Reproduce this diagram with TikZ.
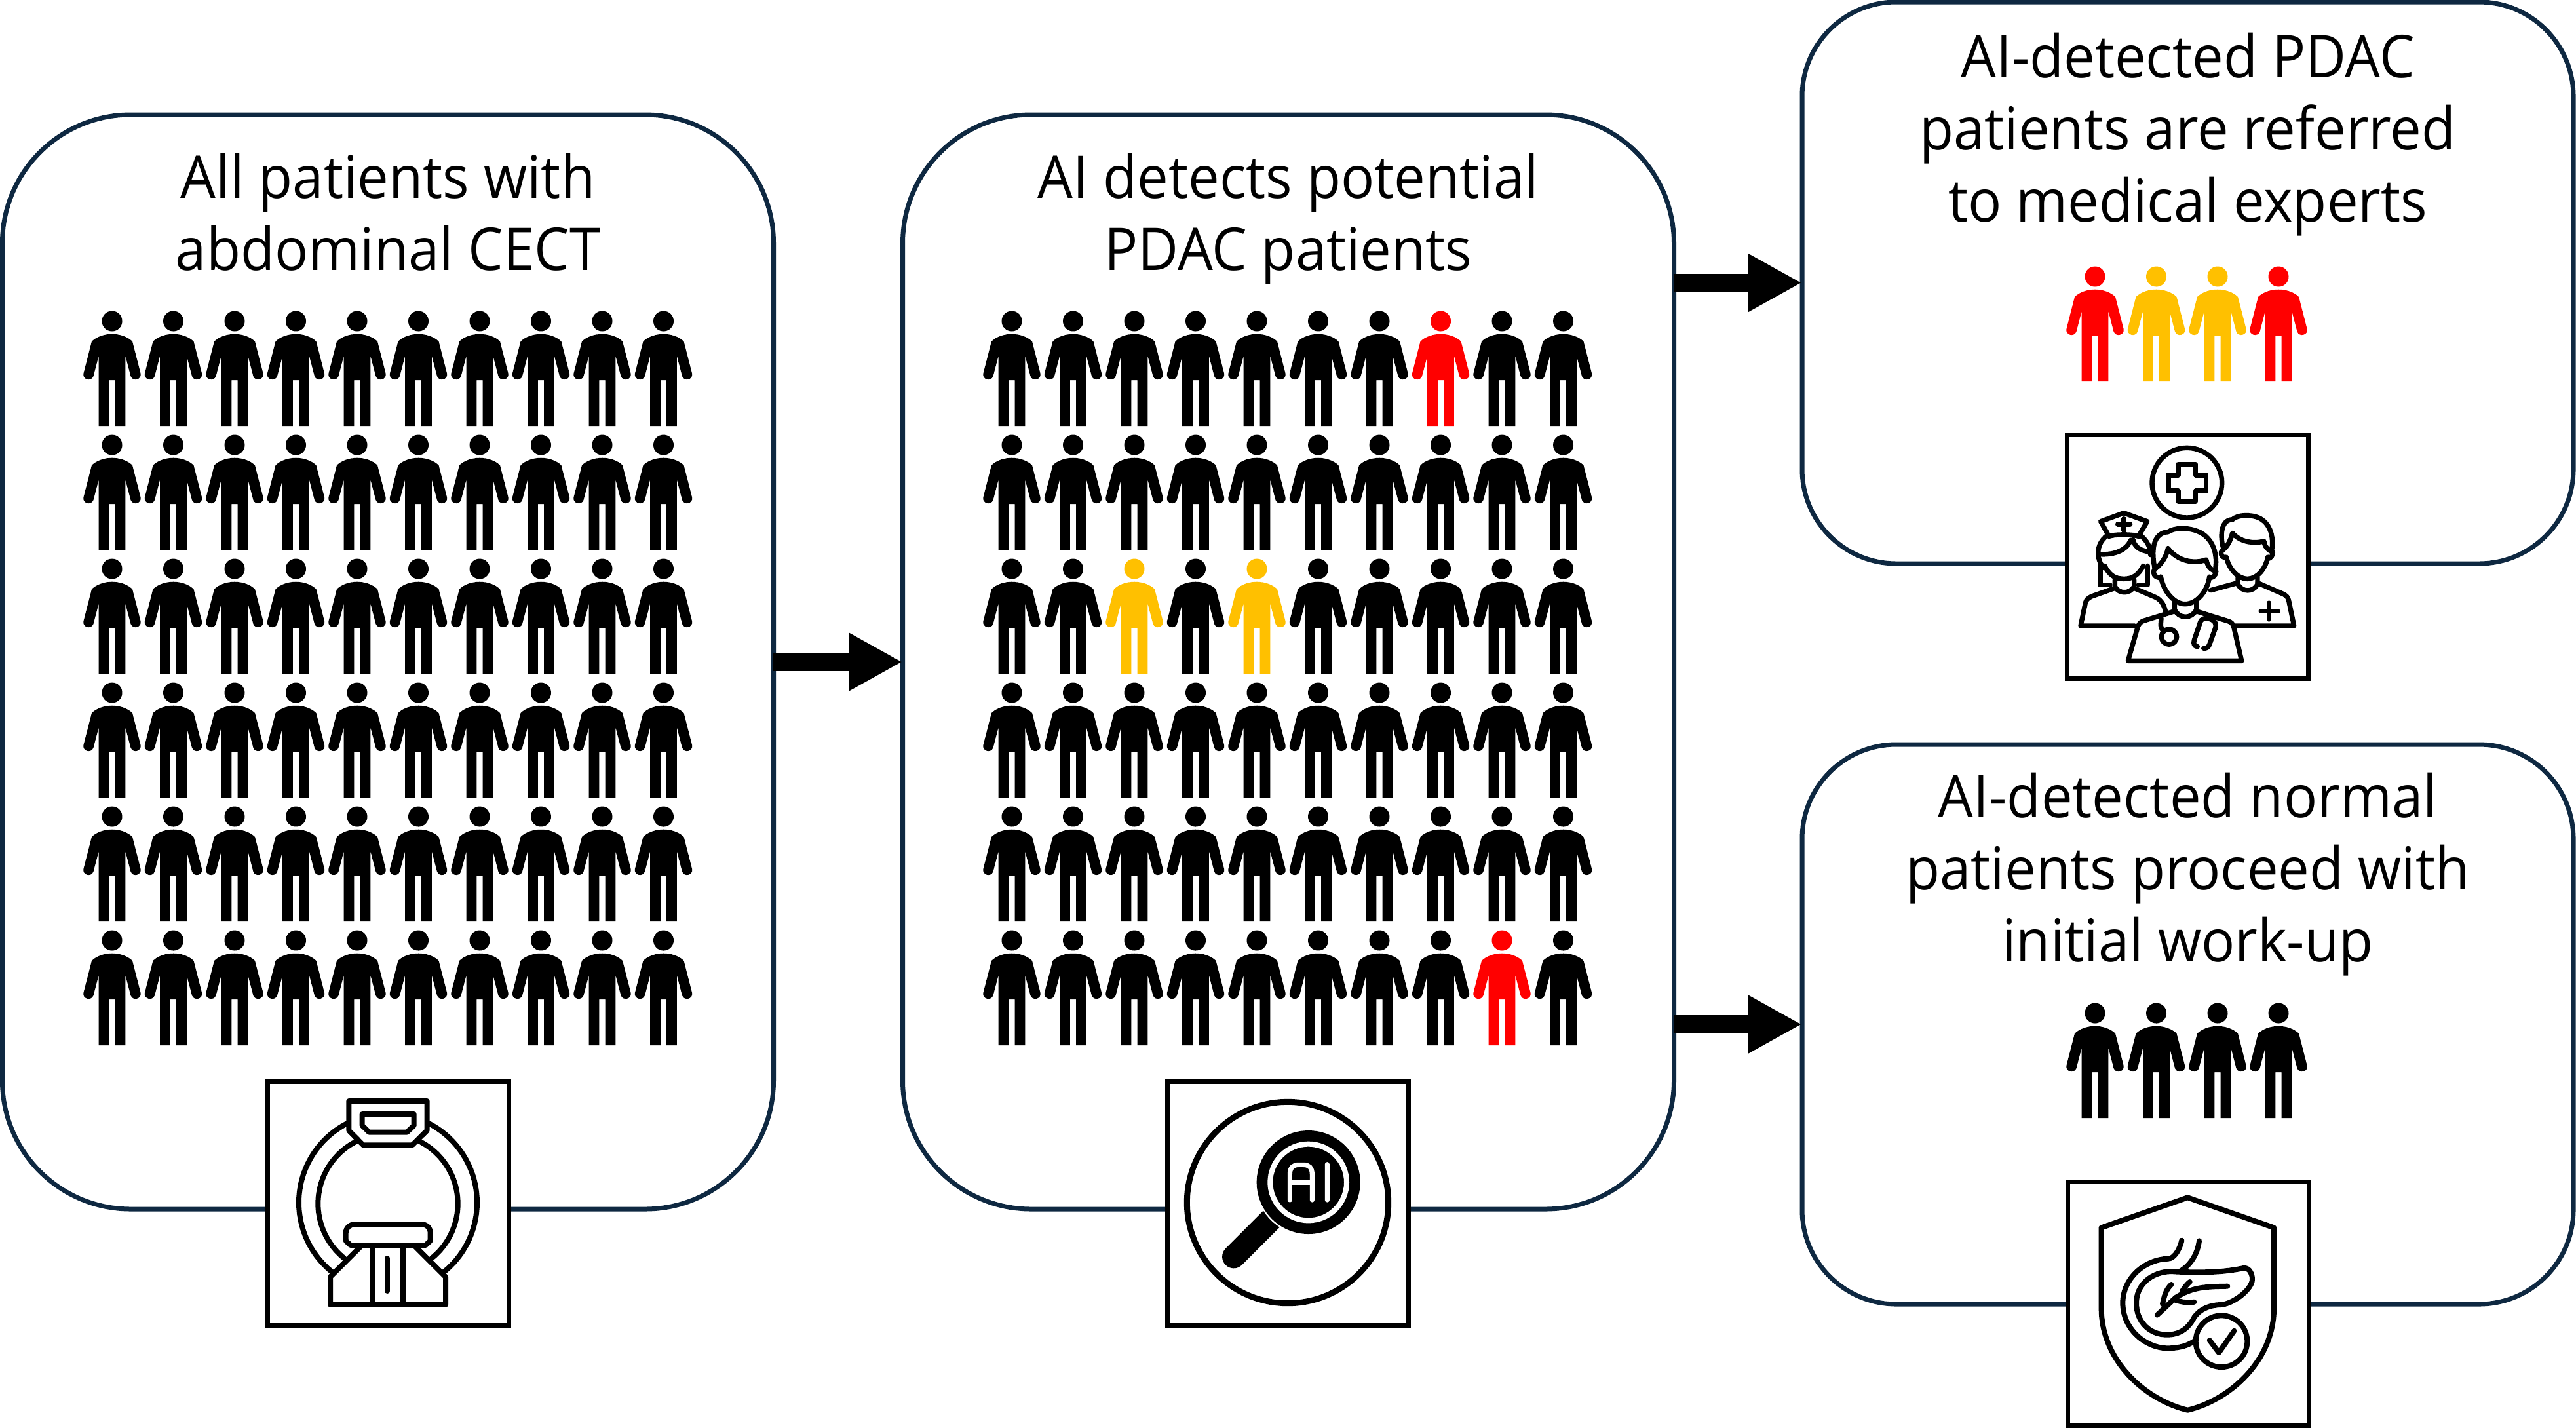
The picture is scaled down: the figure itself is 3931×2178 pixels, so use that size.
\documentclass[tikz,border=0pt]{standalone}
\usepackage{fontspec}
\setmainfont[FakeStretch=0.945]{Open Sans}
\usetikzlibrary{arrows.meta}
\definecolor{navy}{HTML}{0E2841}
\definecolor{pred}{HTML}{FF0000}
\definecolor{pyel}{HTML}{FFC000}
\newcommand{\patient}[3]{%
  \begin{scope}[shift={(#1,#2)}]
    \fill[#3] (0,0) circle[radius=15.5];
    \fill[#3] (0,19.7) .. controls (-12,19.7) and (-24,24) .. (-31,31)
      -- (-43.6,80) .. controls (-45.5,89) and (-32,93) .. (-28.5,84)
      -- (-20.4,53) -- (-20.4,160) -- (-4.7,160) -- (-4.7,90)
      -- (4.7,90) -- (4.7,160) -- (20.4,160) -- (20.4,53)
      -- (28.5,84) .. controls (32,93) and (45.5,89) .. (43.6,80)
      -- (31,31) .. controls (24,24) and (12,19.7) .. (0,19.7) -- cycle;
  \end{scope}}
\tikzset{
  panel/.style={draw=navy,line width=1.75pt,fill=white,inner sep=0pt,rectangle},
  iconbox/.style={draw=black,line width=1.75pt,fill=white,inner sep=0pt,rectangle,minimum width=92pt,minimum height=93pt},
  flow/.style={line width=7pt,-{Triangle[length=20.5pt,width=20.75pt]},shorten <=-1pt,shorten >=-0.8pt},
  head/.style={align=center,anchor=base,inner sep=0pt,font=\fontsize{22.5}{27.5}\selectfont},
  ico/.style={line width=2pt,line cap=round,line join=round},
}
\begin{document}
\begin{tikzpicture}[x=0.25pt,y=-0.25pt]
\useasboundingbox (0,0) rectangle (3931,2178);
\fill[white] (0,0) rectangle (3931,2178);
% panels
\node[panel,rounded corners=49pt,minimum width=294.25pt,minimum height=417.5pt] (p1) at (592,1010) {};
\node[panel,rounded corners=49pt,minimum width=294.25pt,minimum height=417.5pt] (p2) at (1966,1010) {};
\node[panel,rounded corners=36pt,minimum width=294.25pt,minimum height=214.25pt] (p3) at (3338.5,431.5) {};
\node[panel,rounded corners=36pt,minimum width=294.25pt,minimum height=213.5pt] (p4) at (3338.5,1563) {};
% connectors
\draw[flow] (p1.east) -- (p2.west);
\draw[flow] (p2.east |- p3.west) -- (p3.west);
\draw[flow] (p2.east |- p4.west) -- (p4.west);
% titles
\node[head] (t1) at (592,412) {All patients with\\abdominal CECT};
\node[head] (t2) at (1966,412) {AI detects potential\\PDAC patients};
\node[head] (t3) at (3338.5,338) {AI-detected PDAC\\patients are referred\\to medical experts};
\node[head] (t4) at (3338.5,1467) {AI-detected normal\\patients proceed with\\initial work-up};
% crowds
\foreach \r in {0,...,5}{\foreach \c in {0,...,9}{%
  \patient{171+93.5*\c}{490+189*\r}{black}}}
\foreach \r in {0,...,5}{\foreach \c in {0,...,9}{%
  \def\pc{black}%
  \ifnum\numexpr\r*10+\c\relax=7 \def\pc{pred}\fi
  \ifnum\numexpr\r*10+\c\relax=22 \def\pc{pyel}\fi
  \ifnum\numexpr\r*10+\c\relax=24 \def\pc{pyel}\fi
  \ifnum\numexpr\r*10+\c\relax=58 \def\pc{pred}\fi
  \patient{1544+93.5*\c}{490+189*\r}{\pc}}}
\patient{3197}{422}{pred}\patient{3290.5}{422}{pyel}\patient{3384}{422}{pyel}\patient{3477}{422}{pred}
\patient{3197}{1546}{black}\patient{3290.5}{1546}{black}\patient{3384}{1546}{black}\patient{3477}{1546}{black}
% icon boxes
\node[iconbox] (i1) at (592,1836) {};
\node[iconbox] (i2) at (1965.5,1836) {};
\node[iconbox] (i3) at (3338,849.5) {};
\node[iconbox] (i4) at (3339,1989) {};
% CT scanner
\begin{scope}[shift={(390,1630)},scale=1/3,ico]
  \draw (427,150) -- (785,150) -- (785,285) -- (717,352) -- (493,352) -- (427,285) -- cycle;
  \draw (488,210) -- (725,210) -- (725,262) -- (693,293) -- (520,293) -- (488,262) -- cycle;
  \draw (606,615) ++(242.7:408) arc[start angle=242.7,end angle=128.4,radius=408];
  \draw (606,615) ++(-62.7:408) arc[start angle=-62.7,end angle=51.6,radius=408];
  \draw (606,620) ++(243.7:320) arc[start angle=243.7,end angle=128.7,radius=320];
  \draw (606,620) ++(-63.7:320) arc[start angle=-63.7,end angle=51.3,radius=320];
  \draw (435,810) -- (413,790) -- (413,755) .. controls (413,730) and (430,715) .. (455,715) -- (760,715) .. controls (785,715) and (800,730) .. (800,755) -- (800,790) -- (778,810) -- cycle;
  \draw (482,815) -- (342,955) -- (342,1082) -- (870,1082) -- (870,955) -- (730,815);
  \draw (533,815) -- (533,1082) (675,815) -- (675,1082);
  \draw (604,870) -- (604,1020);
\end{scope}
% AI magnifier
\begin{scope}[shift={(1770,1630)},scale=1/3]
  \draw[line width=2.25pt] (585,615) circle[radius=461];
  \draw[line width=8.8pt,line cap=round] (338,863) -- (516,685);
  \fill[white] (680,522) circle[radius=244];
  \fill (680,522) circle[radius=237];
  \draw[white,line width=2pt] (680,522) circle[radius=175];
  \draw[white,line width=1.8pt,line cap=round,line join=round]
     (595,603) -- (595,485) .. controls (595,455) and (610,442) .. (635,442) -- (657,442) .. controls (682,442) and (697,455) .. (697,485) -- (697,603)
     (595,523) -- (697,523) (766,440) -- (766,603);
\end{scope}
% medical staff
\begin{scope}[shift={(3140,650)},scale=1/3,ico,line width=1.85pt]
  \draw (592,260) circle[radius=160];
  \draw (552,175) -- (632,175) -- (632,225) -- (680,225) -- (680,297) -- (632,297) -- (632,345) -- (552,345) -- (552,297) -- (507,297) -- (507,225) -- (552,225) -- cycle;
  % nurse
  \draw (235,505) -- (197,437) -- (303,398) -- (410,437) -- (370,505) .. controls (340,495) and (265,495) .. (235,505) -- cycle;
  \draw (303,425) -- (303,478) (275,450) -- (332,450);
  \draw (228,500) .. controls (195,525) and (180,560) .. (187,600) .. controls (190,620) and (200,640) .. (212,650);
  \draw (378,500) .. controls (410,525) and (425,555) .. (425,590);
  \draw (195,587) .. controls (240,590) and (310,580) .. (335,522);
  \draw (345,520) .. controls (350,550) and (375,570) .. (415,575);
  \draw (215,640) .. controls (235,680) and (260,700) .. (303,700) .. controls (345,700) and (372,680) .. (392,640);
  \draw (195,640) -- (195,728) -- (240,728) (412,640) -- (412,728) -- (370,728);
  \draw (262,705) -- (262,735) .. controls (280,770) and (330,770) .. (350,735) -- (350,705);
  \draw (262,742) -- (155,780) .. controls (140,788) and (130,795) .. (127,810) -- (105,915) -- (352,915);
  \draw (350,742) -- (450,785) .. controls (475,798) and (488,820) .. (495,855);
  % other staff
  \draw (760,565) .. controls (745,520) and (740,430) .. (800,428) .. controls (825,405) and (885,405) .. (920,420) .. controls (975,445) and (990,510) .. (980,570);
  \draw (765,560) .. controls (785,540) and (795,510) .. (800,490) .. controls (835,530) and (890,540) .. (945,528) .. controls (945,550) and (965,570) .. (985,578);
  \draw (760,565) .. controls (740,575) and (745,600) .. (772,605) (985,578) .. controls (985,595) and (975,605) .. (962,608);
  \draw (772,600) .. controls (785,660) and (830,700) .. (868,700) .. controls (910,700) and (950,660) .. (962,600);
  \draw (825,695) -- (825,725) .. controls (845,762) and (895,762) .. (915,725) -- (915,695);
  \draw (700,752) -- (825,718) (915,718) -- (1035,770) .. controls (1048,778) and (1055,785) .. (1058,800) -- (1082,915) -- (810,915);
  \draw (930,848) -- (1008,848) (968,810) -- (968,885);
  % doctor
  \draw (445,655) .. controls (430,580) and (430,490) .. (505,485) .. controls (535,465) and (590,465) .. (630,478) .. controls (700,500) and (735,570) .. (722,655);
  \draw (445,655) .. controls (480,630) and (500,590) .. (505,560) .. controls (545,615) and (620,635) .. (680,612) .. controls (685,640) and (700,660) .. (725,665);
  \draw (445,655) .. controls (430,675) and (445,695) .. (472,695) (725,665) .. controls (725,685) and (710,695) .. (695,695);
  \draw (472,690) .. controls (485,760) and (535,815) .. (583,815) .. controls (635,815) and (685,760) .. (695,690);
  \draw (535,805) -- (535,840) .. controls (555,885) and (615,885) .. (635,840) -- (635,805);
  \draw (535,848) -- (390,893) .. controls (378,900) and (372,905) .. (368,915) -- (322,1075) -- (842,1075) -- (805,915) .. controls (802,905) and (795,900) .. (785,895) -- (635,848);
  \draw (474,880) -- (472,905) .. controls (470,915) and (475,925) .. (480,935);
  \draw (510,965) circle[radius=35];
  \draw (640,1010) .. controls (625,1010) and (620,995) .. (625,980) -- (652,900) .. controls (658,880) and (675,878) .. (695,883) .. controls (720,890) and (728,905) .. (722,925) -- (695,1000) .. controls (690,1015) and (680,1018) .. (668,1018);
\end{scope}
% pancreas shield
\begin{scope}[shift={(3140,1790)},scale=1/3,ico]
  \draw (595,112) -- (990,250) -- (990,620) .. controls (990,850) and (800,1035) .. (595,1085) .. controls (390,1035) and (200,850) .. (200,620) -- (200,250) -- cycle;
  \draw (568,308) .. controls (555,360) and (530,392) .. (505,392) .. controls (400,395) and (298,480) .. (298,595) .. controls (298,720) and (410,805) .. (510,802) .. controls (560,800) and (600,790) .. (635,762);
  \draw (648,310) .. controls (640,370) and (610,420) .. (560,450);
  \draw (360,595) .. controls (360,510) and (430,452) .. (520,450) .. controls (640,458) and (760,455) .. (850,435) .. controls (880,430) and (895,470) .. (890,495) .. controls (880,540) and (800,600) .. (745,603) .. controls (690,605) and (650,625) .. (625,660) .. controls (600,710) and (560,740) .. (500,740) .. controls (420,740) and (360,680) .. (360,595) -- cycle;
  \draw (455,650) -- (540,570) .. controls (620,520) and (680,520) .. (778,518);
  \draw (480,600) .. controls (490,550) and (500,530) .. (520,510);
  \draw (570,540) .. controls (580,525) and (590,510) .. (605,498);
  \draw (535,580) .. controls (570,592) and (600,595) .. (625,590);
  \draw (750,770) circle[radius=118];
  \draw (695,765) -- (738,822) -- (808,722);
\end{scope}
\end{tikzpicture}
\end{document}
